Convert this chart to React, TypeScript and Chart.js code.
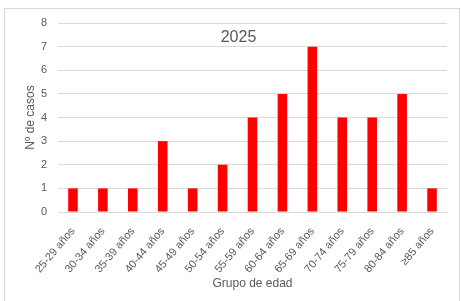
import React, { useEffect, useRef } from "react";
import { Chart, registerables } from "chart.js";

Chart.register(...registerables);

const categories = [
  "25-29 años", "30-34 años", "35-39 años", "40-44 años", "45-49 años",
  "50-54 años", "55-59 años", "60-64 años", "65-69 años", "70-74 años",
  "75-79 años", "80-84 años", "≥85 años",
];
const casos = [1, 1, 1, 3, 1, 2, 4, 5, 7, 4, 4, 5, 1];
const chartTitle = "2025";
const yTitle = "Nº de casos";
const xTitle = "Grupo de edad";

const FONT = "'Liberation Sans', Arial, sans-serif";
const GRAY = "#595959";

const framePlugin = {
  id: "frame",
  beforeDraw(chart: any) {
    const ctx = chart.ctx;
    ctx.save();
    ctx.fillStyle = "#ffffff";
    ctx.fillRect(0, 0, chart.width, chart.height);
    ctx.strokeStyle = "#d9d9d9";
    ctx.lineWidth = 1;
    ctx.strokeRect(4.5, 8.5, chart.width - 6, chart.height + 10);
    ctx.restore();
  },
  afterDraw(chart: any) {
    const ctx = chart.ctx;
    ctx.save();
    ctx.font = `16px ${FONT}`;
    ctx.fillStyle = GRAY;
    ctx.textAlign = "center";
    ctx.textBaseline = "middle";
    ctx.fillText(chartTitle, chart.width / 2 + 8, 38);
    ctx.restore();
  },
};

export default function App() {
  const ref = useRef<HTMLCanvasElement>(null);
  useEffect(() => {
    if (!ref.current) return;
    const chart = new Chart(ref.current, {
      type: "bar",
      data: {
        labels: categories,
        datasets: [
          {
            data: casos,
            backgroundColor: "#ff0000",
            barPercentage: 0.32,
            categoryPercentage: 1,
          },
        ],
      },
      options: {
        animation: false,
        responsive: false,
        layout: { padding: { top: 23, left: 5, right: 14, bottom: 5 } },
        plugins: { legend: { display: false }, tooltip: { enabled: false } },
        scales: {
          x: {
            grid: { display: false },
            border: { display: false },
            ticks: {
              color: GRAY,
              font: { size: 11, family: FONT },
              minRotation: 50,
              maxRotation: 50,
              autoSkip: false,
              padding: 5,
            },
            title: {
              display: true,
              text: xTitle,
              color: GRAY,
              font: { size: 12, family: FONT },
              padding: { top: 0, bottom: 5 },
            },
            afterFit(scale: any) {
              scale.height = 84;
            },
          },
          y: {
            min: 0,
            max: 8,
            ticks: {
              stepSize: 1,
              color: GRAY,
              font: { size: 11, family: FONT },
              padding: 11,
            },
            grid: { color: "#d9d9d9", drawTicks: false, lineWidth: 1 },
            border: { display: false },
            title: {
              display: true,
              text: yTitle,
              color: GRAY,
              font: { size: 12, family: FONT },
              padding: { top: 18, bottom: 0 },
            },
            afterFit(scale: any) {
              scale.width = 53;
            },
          },
        },
      },
      plugins: [framePlugin],
    });
    return () => chart.destroy();
  }, []);
  return (
    <div style={{ position: "fixed", left: 0, top: 0, width: 461, height: 301 }}>
      <canvas ref={ref} width={461} height={301} />
    </div>
  );
}
